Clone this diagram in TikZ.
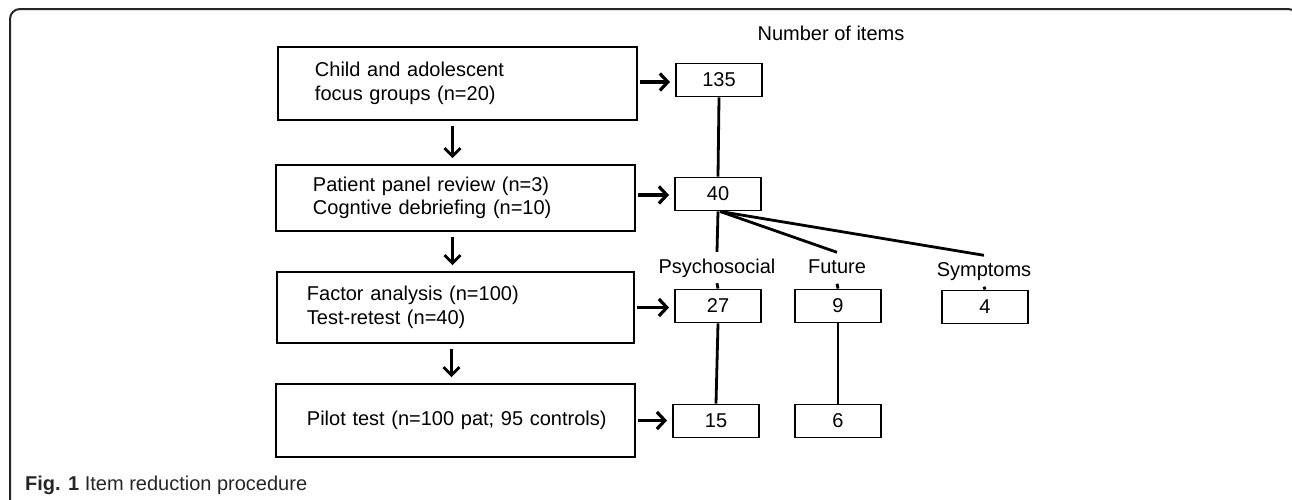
\documentclass[tikz,border=0pt]{standalone}
\usepackage{fontspec}
\setmainfont{Liberation Sans}
\usetikzlibrary{arrows.meta}
\begin{document}
\begin{tikzpicture}[x=1pt,y=-1pt,
  txt/.style={font=\fontsize{20pt}{23.5pt}\selectfont, text=black},
  stepbox/.style={txt, draw=black, line width=1.9pt, align=left, inner ysep=0pt, anchor=west},
  numbox/.style={txt, draw=black, line width=1.9pt, minimum width=86pt, minimum height=33pt, inner sep=0pt},
  lab/.style={txt, inner xsep=2pt, inner ysep=6pt, text height=15pt, text depth=4pt},
  harr/.style={line width=3.2pt, -{Straight Barb[length=8pt,width=17pt]}, shorten <=2pt, shorten >=5pt},
  varr/.style={line width=2.8pt, -{Straight Barb[length=8pt,width=16pt]}, shorten <=5pt, shorten >=6pt},
  conn/.style={line width=2.8pt, black},
  frame/.style={line width=2pt, black!85, rounded corners=10pt}
]
\useasboundingbox (0,0) rectangle (1292,499);
\clip (0,0) rectangle (1292,499);
\draw[frame] (10,540) -- (10,9) -- (1298,9) -- (1298,540);

% left column
\node[stepbox, inner xsep=37pt, text width=285pt, minimum height=73pt] (b1) at (277,83.5)
  {Child and adolescent\\focus groups (n=20)};
\node[stepbox, inner xsep=37pt, text width=285pt, minimum height=66pt] (b2) at (275,198)
  {Patient panel review (n=3)\\Cogntive debriefing (n=10)};
\node[stepbox, inner xsep=30pt, text width=297pt, minimum height=71pt] (b3) at (276,307.5)
  {Factor analysis (n=100)\\Test-retest (n=40)};
\node[stepbox, inner xsep=31pt, text width=297pt, minimum height=73pt] (b4) at (275,420.5)
  {\mbox{Pilot test (n=100 pat; 95 controls)}};

% right column
\node[txt] (noi) at (831,33) {Number of items};
\node[numbox] (n135) at (719,80) {135};
\node[numbox] (n40) at (718,194) {40};
\node[lab] (psy) at (717,267.5) {Psychosocial};
\node[lab] (fut) at (837,268) {Future};
\node[lab] (sym) at (984,271) {Symptoms};
\node[numbox] (n27) at (718,306) {27};
\node[numbox] (n9) at (838,306) {9};
\node[numbox] (n4) at (985,307) {4};
\node[numbox] (n15) at (716,421) {15};
\node[numbox] (n6) at (838,421) {6};

% arrows
\draw[varr] ([xshift=-5pt]b1.south) -- ([xshift=-5pt]b1.south |- b2.north);
\draw[varr] ([xshift=-3pt]b2.south) -- ([xshift=-3pt]b2.south |- b3.north);
\draw[varr] ([xshift=-4pt]b3.south) -- ([xshift=-4pt]b3.south |- b4.north);

\draw[harr] ([yshift=1.5pt]b1.east) -- ([yshift=1.5pt]b1.east -| n135.west);
\draw[harr] ([yshift=3pt]b2.east) -- ([yshift=3pt]b2.east -| n40.west);
\draw[harr] (b3.east) -- (b3.east -| n27.west);
\draw[harr] (b4.east) -- (b4.east -| n15.west);

% connectors
\draw[conn] (n135.south) -- (n40.north);
\draw[conn] (n40.south) -- (psy.north);
\draw[conn] ([xshift=2pt]n40.south) -- (fut.north);
\draw[conn] ([xshift=2pt]n40.south) -- (sym.north);
\draw[conn] (psy.south) -- (n27.north);
\draw[conn] (fut.south) -- (n9.north);
\draw[conn] (sym.south) -- (n4.north);
\draw[conn] (n27.south) -- (n15.north);
\draw[conn] (n9.south) -- (n6.north);

% caption
\node[anchor=base west, inner sep=0pt, font=\fontsize{20pt}{24pt}\selectfont, text=black!85] (cap) at (25,490)
  {\textbf{Fig. 1} Item reduction procedure};
\end{tikzpicture}
\end{document}
